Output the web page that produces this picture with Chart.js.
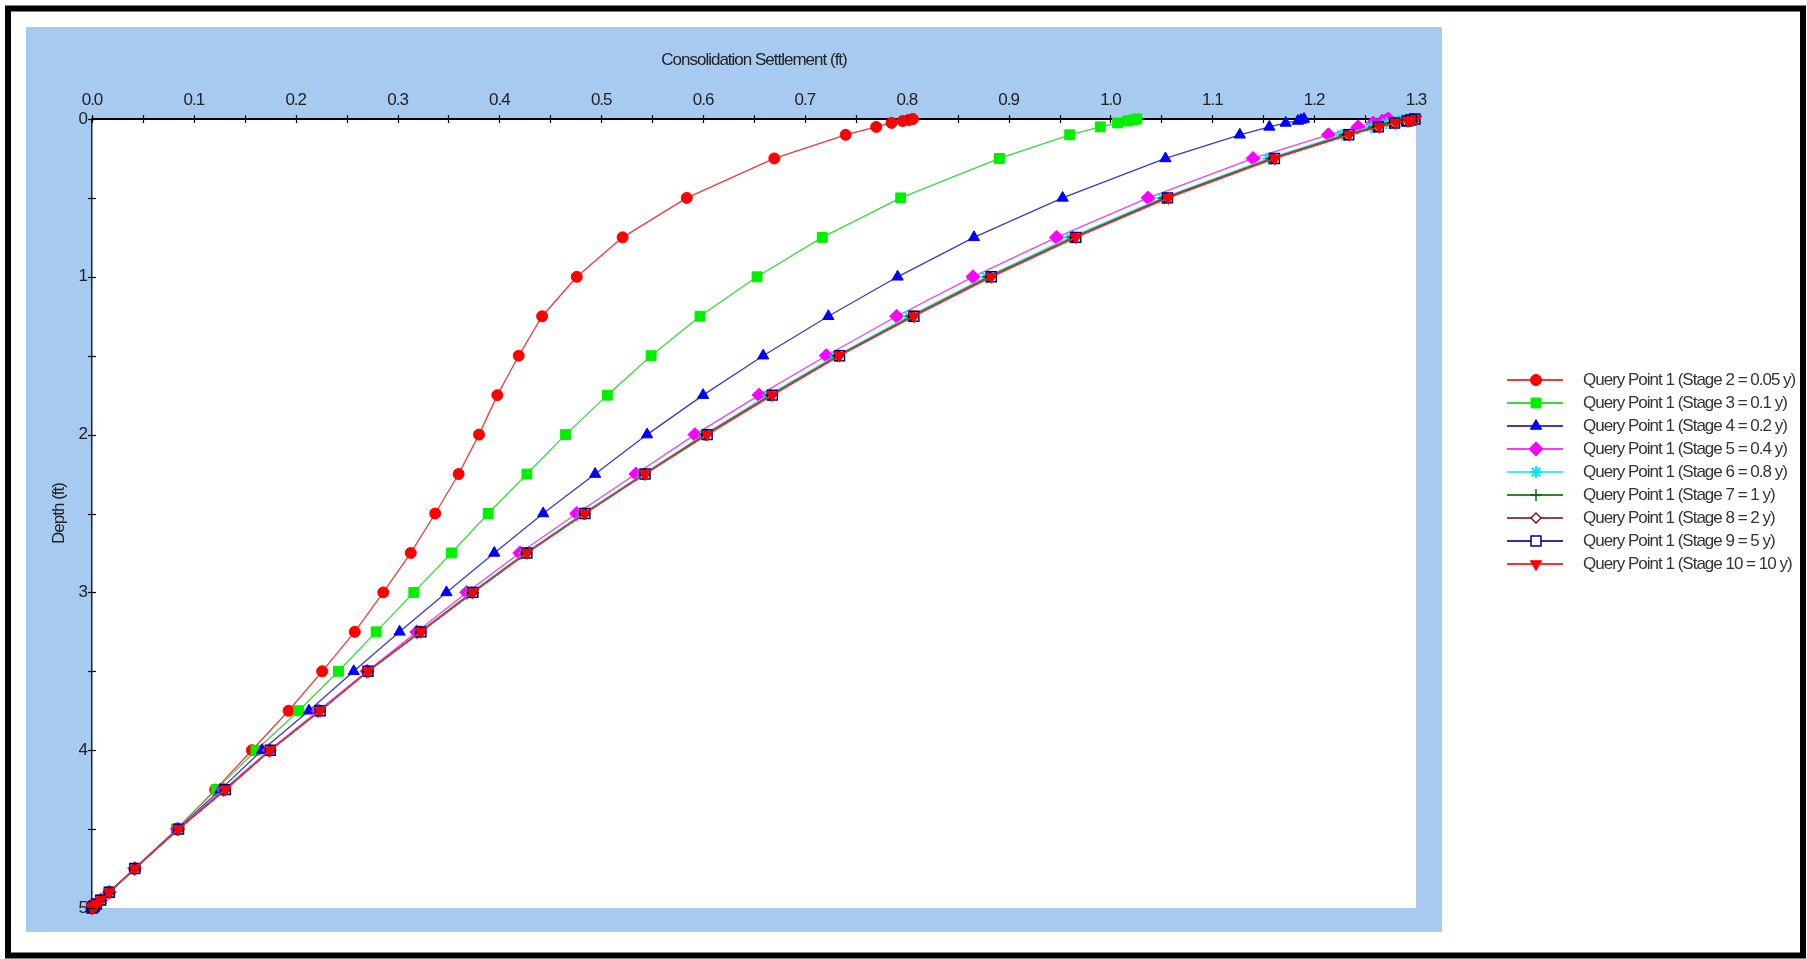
<!DOCTYPE html>
<html>
<head>
<meta charset="utf-8">
<script src="https://cdn.jsdelivr.net/npm/chart.js@4.4.1/dist/chart.umd.min.js"></script>
<style>
  html, body { margin: 0; padding: 0; background: #fff; }
  canvas { display: block; }
</style>
</head>
<body>
<canvas id="recalque" width="1807" height="959"></canvas>
<script>
// profundidades (ft) comuns a todas as curvas
const depths = [0, 0.00625, 0.0125, 0.025, 0.05, 0.1, 0.25, 0.5, 0.75, 1, 1.25, 1.5, 1.75, 2, 2.25, 2.5,
  2.75, 3, 3.25, 3.5, 3.75, 4, 4.25, 4.5, 4.75, 4.9, 4.95, 4.975, 4.9875, 4.99375, 5];

// recalque por consolidacao (ft) de cada estagio
const stage2 = [0.806, 0.802, 0.796, 0.785, 0.770, 0.740, 0.670, 0.584, 0.521, 0.476, 0.442, 0.419, 0.398, 0.380, 0.360, 0.337,
  0.313, 0.286, 0.258, 0.226, 0.193, 0.157, 0.121, 0.083, 0.042, 0.017, 0.0085, 0.0043, 0.0021, 0.0011, 0];
const stage3 = [1.026, 1.022, 1.017, 1.007, 0.990, 0.960, 0.891, 0.794, 0.717, 0.653, 0.597, 0.549, 0.506, 0.465, 0.427, 0.389,
  0.353, 0.316, 0.279, 0.242, 0.203, 0.161, 0.122, 0.083, 0.042, 0.017, 0.0085, 0.0043, 0.0021, 0.0011, 0];
const stage4 = [1.190, 1.187, 1.184, 1.172, 1.156, 1.127, 1.054, 0.953, 0.866, 0.791, 0.723, 0.659, 0.600, 0.545, 0.494, 0.443,
  0.395, 0.348, 0.302, 0.257, 0.213, 0.167, 0.126, 0.084, 0.042, 0.017, 0.0085, 0.0043, 0.0021, 0.0011, 0];
const stage5 = [1.273, 1.271, 1.267, 1.258, 1.243, 1.214, 1.140, 1.037, 0.947, 0.865, 0.790, 0.721, 0.655, 0.592, 0.534, 0.476,
  0.420, 0.368, 0.319, 0.270, 0.222, 0.174, 0.129, 0.084, 0.042, 0.017, 0.0085, 0.0043, 0.0021, 0.0011, 0];
const stage6 = [1.290, 1.287, 1.283, 1.271, 1.256, 1.227, 1.155, 1.051, 0.960, 0.878, 0.802, 0.730, 0.664, 0.601, 0.541, 0.482,
  0.425, 0.372, 0.322, 0.271, 0.223, 0.175, 0.130, 0.085, 0.042, 0.017, 0.0085, 0.0043, 0.0021, 0.0011, 0];
const stage7 = [1.294, 1.291, 1.287, 1.275, 1.259, 1.230, 1.158, 1.053, 0.963, 0.880, 0.804, 0.732, 0.666, 0.602, 0.542, 0.483,
  0.426, 0.373, 0.322, 0.271, 0.224, 0.175, 0.130, 0.085, 0.042, 0.017, 0.0085, 0.0043, 0.0021, 0.0011, 0];
const stage8 = [1.297, 1.293, 1.289, 1.278, 1.262, 1.232, 1.160, 1.055, 0.965, 0.882, 0.806, 0.733, 0.667, 0.603, 0.543, 0.484,
  0.427, 0.374, 0.323, 0.271, 0.224, 0.175, 0.131, 0.085, 0.042, 0.017, 0.0085, 0.0043, 0.0021, 0.0011, 0];
const stage9 = [1.299, 1.295, 1.291, 1.279, 1.263, 1.234, 1.161, 1.056, 0.966, 0.883, 0.807, 0.734, 0.668, 0.604, 0.543, 0.484,
  0.427, 0.374, 0.323, 0.271, 0.224, 0.175, 0.131, 0.085, 0.042, 0.017, 0.0085, 0.0043, 0.0021, 0.0011, 0];
const stage10 = [1.300, 1.296, 1.292, 1.280, 1.264, 1.2345, 1.1615, 1.057, 0.966, 0.883, 0.807, 0.734, 0.668, 0.604, 0.543, 0.484,
  0.427, 0.374, 0.323, 0.271, 0.224, 0.175, 0.131, 0.085, 0.042, 0.017, 0.0085, 0.0043, 0.0021, 0.0011, 0];

const seriesNames = [
  'Query Point 1 (Stage 2 = 0.05 y)',
  'Query Point 1 (Stage 3 = 0.1 y)',
  'Query Point 1 (Stage 4 = 0.2 y)',
  'Query Point 1 (Stage 5 = 0.4 y)',
  'Query Point 1 (Stage 6 = 0.8 y)',
  'Query Point 1 (Stage 7 = 1 y)',
  'Query Point 1 (Stage 8 = 2 y)',
  'Query Point 1 (Stage 9 = 5 y)',
  'Query Point 1 (Stage 10 = 10 y)'
];
const seriesValues = [stage2, stage3, stage4, stage5, stage6, stage7, stage8, stage9, stage10];

// estilo de cada serie: cor da linha, cor do marcador, forma
const estilos = [
  { linha: '#f03a3a', cor: '#ff0000', fundo: '#ff0000', forma: 'circle', raio: 5.5, rot: 0, bw: 1 },
  { linha: '#3ad83a', cor: '#00f000', fundo: '#00f000', forma: 'rect', raio: 7, rot: 0, bw: 1 },
  { linha: '#3a3ac8', cor: '#0000ff', fundo: '#0000ff', forma: 'triangle', raio: 6.5, rot: 0, bw: 1 },
  { linha: '#f040f0', cor: '#ff00ff', fundo: '#ff00ff', forma: 'rectRot', raio: 7, rot: 0, bw: 1 },
  { linha: '#40f0f0', cor: '#00e8e8', fundo: '#00e8e8', forma: 'star', raio: 6, rot: 0, bw: 2 },
  { linha: '#2a8a2a', cor: '#007000', fundo: '#007000', forma: 'cross', raio: 6, rot: 0, bw: 1.5 },
  { linha: '#9a4040', cor: '#800000', fundo: 'rgba(255,255,255,0)', forma: 'rectRot', raio: 5, rot: 0, bw: 1.3 },
  { linha: '#30309a', cor: '#000080', fundo: 'rgba(255,255,255,0)', forma: 'rect', raio: 7, rot: 0, bw: 1.5 },
  { linha: '#ff3030', cor: '#ff0000', fundo: '#ff0000', forma: 'triangle', raio: 6.5, rot: 180, bw: 1 }
];

const fonte = "'Liberation Sans', Arial, sans-serif";
Chart.defaults.font.family = fonte;
Chart.defaults.font.size = 17;
Chart.defaults.color = '#222';

const datasets = seriesValues.map((vals, i) => {
  const e = estilos[i];
  return {
    label: seriesNames[i],
    data: depths.map((d, j) => ({ x: vals[j], y: d })),
    showLine: true,
    borderColor: e.linha,
    backgroundColor: e.fundo,
    borderWidth: 1.3,
    pointStyle: e.forma,
    pointRadius: e.raio,
    pointRotation: e.rot,
    pointBackgroundColor: e.fundo,
    pointBorderColor: e.cor,
    pointBorderWidth: e.bw,
    tension: 0,
    clip: false,
    order: seriesValues.length - i
  };
});

// fundo azul, moldura preta e area branca do grafico
const fundoPlugin = {
  id: 'fundoPlugin',
  beforeDraw(chart) {
    const { ctx, chartArea: a } = chart;
    // letra mais estreita, como no original
    ctx.letterSpacing = '-1px';
    ctx.save();
    ctx.fillStyle = '#fff';
    ctx.fillRect(0, 0, chart.width, chart.height);
    ctx.fillStyle = '#a6caf0';
    ctx.fillRect(26, 27, a.right, a.bottom - 3);
    ctx.fillStyle = '#fff';
    ctx.fillRect(a.left, a.top, a.right - a.left, a.bottom - a.top);
    ctx.strokeStyle = '#000';
    ctx.lineWidth = 6;
    ctx.strokeRect(8, 8.5, 1795, 947);
    ctx.restore();
  }
};

// marcas que cruzam os eixos
const marcasPlugin = {
  id: 'marcasPlugin',
  afterDraw(chart) {
    const { ctx, scales: { x, y } } = chart;
    ctx.save();
    ctx.strokeStyle = '#000';
    ctx.lineWidth = 1.2;
    x.ticks.forEach((t, i) => {
      const px = Math.round(x.getPixelForTick(i)) + 0.5;
      ctx.beginPath();
      ctx.moveTo(px, x.bottom - 4);
      ctx.lineTo(px, x.bottom + 4);
      ctx.stroke();
    });
    y.ticks.forEach((t, i) => {
      const py = Math.round(y.getPixelForTick(i)) + 0.5;
      ctx.beginPath();
      ctx.moveTo(y.right - 4, py);
      ctx.lineTo(y.right + 4, py);
      ctx.stroke();
    });
    ctx.restore();
  }
};

// legenda com linha + marcador, fora do painel azul
const legendaPlugin = {
  id: 'legendaPlugin',
  afterDraw(chart) {
    const ctx = chart.ctx;
    ctx.save();
    chart.data.datasets.forEach((ds, i) => {
      const yy = 380 + i * 23;
      ctx.strokeStyle = ds.borderColor;
      ctx.lineWidth = 2;
      ctx.beginPath();
      ctx.moveTo(1507, yy);
      ctx.lineTo(1563, yy);
      ctx.stroke();
      ctx.fillStyle = ds.pointBackgroundColor === 'rgba(255,255,255,0)' ? '#fff' : ds.pointBackgroundColor;
      ctx.strokeStyle = ds.pointBorderColor;
      ctx.lineWidth = ds.pointBorderWidth;
      Chart.helpers.drawPoint(ctx, {
        pointStyle: ds.pointStyle,
        radius: ds.pointRadius,
        rotation: ds.pointRotation,
        borderWidth: ds.pointBorderWidth
      }, 1536, yy);
      ctx.fillStyle = '#333';
      ctx.font = '17px ' + fonte;
      ctx.textBaseline = 'middle';
      ctx.textAlign = 'left';
      ctx.fillText(ds.label, 1583, yy);
    });
    ctx.restore();
  }
};

new Chart(document.getElementById('recalque'), {
  type: 'scatter',
  data: { datasets },
  plugins: [fundoPlugin, marcasPlugin, legendaPlugin],
  options: {
    responsive: false,
    animation: false,
    devicePixelRatio: 1,
    layout: { padding: { left: 0, top: 0, right: 391, bottom: 51 } },
    plugins: { legend: { display: false }, tooltip: { enabled: false } },
    scales: {
      x: {
        type: 'linear',
        position: 'top',
        min: 0,
        max: 1.3,
        afterFit(s) { s.height = 119; },
        grid: { display: false, drawTicks: false },
        border: { display: true, color: '#000', width: 2 },
        ticks: {
          stepSize: 0.05,
          padding: 8,
          autoSkip: false,
          maxRotation: 0,
          callback: v => Math.abs(v * 10 - Math.round(v * 10)) < 1e-6 ? v.toFixed(1) : ''
        },
        title: { display: true, text: 'Consolidation Settlement (ft)', padding: { top: 50, bottom: 0 } }
      },
      y: {
        type: 'linear',
        position: 'left',
        reverse: true,
        min: 0,
        max: 5,
        afterFit(s) { s.width = 92; },
        grid: { display: false, drawTicks: false },
        border: { display: true, color: '#222', width: 1.5 },
        ticks: {
          stepSize: 0.5,
          padding: 5,
          autoSkip: false,
          callback: v => Number.isInteger(v) ? String(v) : ''
        },
        title: { display: true, text: 'Depth (ft)', padding: { top: 49, bottom: 0 } }
      }
    }
  }
});
</script>
</body>
</html>
